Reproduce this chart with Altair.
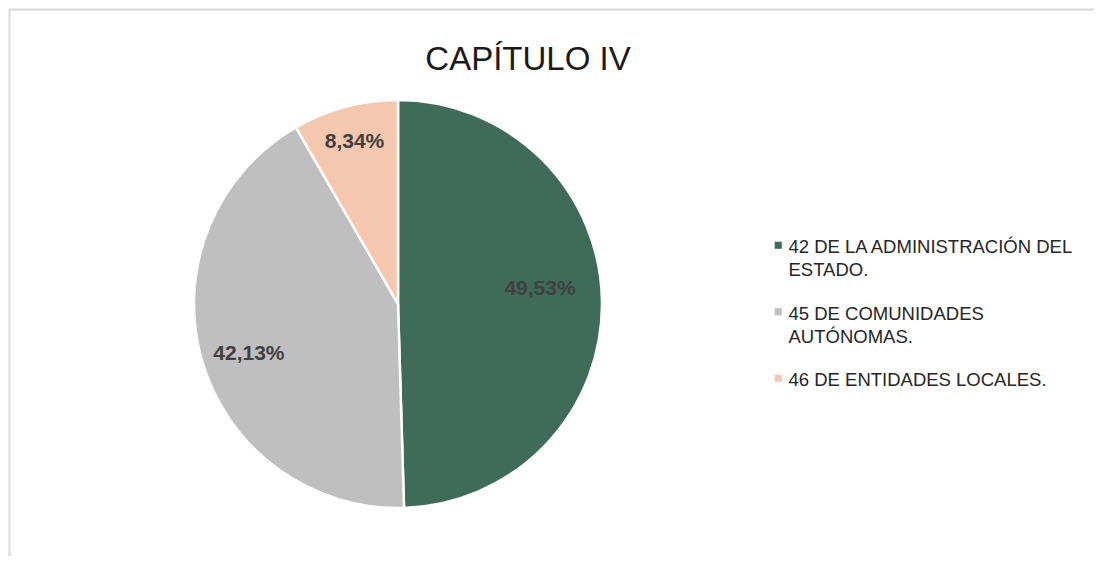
import altair as alt
import pandas as pd

categories = ["42 DE LA ADMINISTRACIÓN DEL|ESTADO.", "45 DE COMUNIDADES|AUTÓNOMAS.", "46 DE ENTIDADES LOCALES."]
values = [49.53, 42.13, 8.34]
colors = ["#3E6B5A", "#BFBFBF", "#F5C7AE"]

df = pd.DataFrame({"cat": categories, "val": values, "order": [0, 1, 2]})
df["label"] = [f"{v:.2f}".replace(".", ",") + "%" for v in values]

FONT = "Liberation Sans"
CX, CY, R = 390, 296, 204
theta_scale = alt.Scale(domain=[0, 100])

pie = alt.Chart(df).mark_arc(outerRadius=R, stroke="white", strokeWidth=2.5, x=CX, y=CY).encode(
    theta=alt.Theta("val:Q", stack=True, scale=theta_scale),
    order=alt.Order("order:Q"),
    color=alt.Color(
        "cat:N",
        scale=alt.Scale(domain=categories, range=colors),
        sort=categories,
        legend=alt.Legend(
            title=None,
            orient="none",
            legendX=761,
            legendY=228,
            symbolType="square",
            symbolSize=50,
            symbolStrokeWidth=0,
            labelFont=FONT,
            labelFontSize=18.5,
            labelColor="#262626",
            labelLimit=400,
            labelExpr="split(datum.label, '|')",
            labelBaseline="top",
            rowPadding=22.5,
            labelOffset=1,
        ),
    ),
)

label_style = dict(font=FONT, fontSize=21, fontWeight="bold", color="#404040", x=CX, y=CY)


def label_layer(idx, radius, dy):
    return (
        alt.Chart(df)
        .transform_stack(stack="val", as_=["v0", "v1"], groupby=[], sort=[alt.SortField("order")])
        .transform_calculate(mid="(datum.v0 + datum.v1) / 2")
        .transform_filter(f"datum.order == {idx}")
        .mark_text(radius=radius, dy=dy, **label_style)
        .encode(theta=alt.Theta("mid:Q", scale=theta_scale), text="label:N")
    )


t0 = label_layer(0, 142, -13)
t1 = label_layer(1, 155, 8)
t2 = label_layer(2, 168, 0)

left = alt.Chart(df).mark_rule(color="#D9D9D9", strokeWidth=1.5).encode(
    x=alt.value(1.5), y=alt.value(1.5), y2=alt.value(548)
)
top = alt.Chart(df).mark_rule(color="#D9D9D9", strokeWidth=1.5).encode(
    x=alt.value(1.5), x2=alt.value(1086), y=alt.value(1.5)
)

chart = alt.layer(left, top, pie, t0, t1, t2).properties(
    width=1086,
    height=548,
    padding=0,
    autosize=alt.AutoSizeParams(type="none"),
    title=alt.TitleParams(
        "CAPÍTULO IV", font=FONT, fontSize=33, fontWeight="normal", color="#1A1A1A",
        anchor="middle", dx=-23, offset=-69,
    ),
).configure(style={"guide-label": {"lineHeight": 23, "dy": -7}}).configure_view(stroke=None)

chart.save("out.html", embed_options={"renderer": "svg", "actions": False})
